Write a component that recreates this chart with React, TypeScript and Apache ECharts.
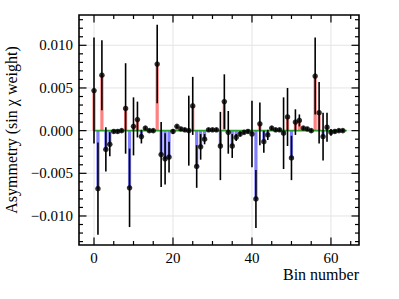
import React, { useEffect, useRef } from 'react';
import * as echarts from 'echarts';

const asym = [
  0.0047, -0.0068, 0.0065, -0.0022, -0.0016, -0.0001, -0.0001, 0.0, 0.0026, -0.0067,
  0.0005, 0.0013, -0.0007, 0.0003, 0.0, 0.0, 0.0078, -0.0028, -0.0033, -0.0031,
  -0.0001, 0.0005, 0.0002, 0.0001, 0.0, 0.0029, -0.0042, -0.0019, -0.001, 0.0001,
  0.0001, 0.0001, -0.0018, 0.0034, -0.0002, -0.0018, -0.0008, -0.0004, -0.0002, -0.0001,
  -0.0004, -0.008, 0.0008, -0.0013, -0.0005, 0.0003, 0.0001, 0.0001, -0.0003, 0.0016,
  -0.0032, 0.001, 0.0012, 0.0003, 0.0002, 0.0, 0.0064, 0.0021, -0.0007, 0.0004,
  -0.0002, -0.0001, 0.0, 0.0,
];
const asymErr = [
  0.0062, 0.0054, 0.0041, 0.0026, 0.0014, 0.0002, 0.0002, 0.0002, 0.0053, 0.0046,
  0.0034, 0.0021, 0.0008, 0.0002, 0.0002, 0.0002, 0.0046, 0.0038, 0.003, 0.0018,
  0.0003, 0.0002, 0.0002, 0.0002, 0.0041, 0.0034, 0.0025, 0.0015, 0.0006, 0.0002,
  0.0002, 0.0002, 0.004, 0.0032, 0.0025, 0.0014, 0.0004, 0.0003, 0.0002, 0.0002,
  0.0039, 0.0034, 0.0025, 0.0013, 0.0006, 0.0002, 0.0002, 0.0002, 0.0042, 0.0034,
  0.0026, 0.0015, 0.0007, 0.0002, 0.0002, 0.0002, 0.0045, 0.0036, 0.0028, 0.0017,
  0.0004, 0.0002, 0.0002, 0.0002,
];
const xMajorTicks = [0, 20, 40, 60];
const xMinorTicks = [5, 10, 15, 25, 30, 35, 45, 50, 55, 65];
const yMajorTicks = [-0.01, -0.005, 0, 0.005, 0.01];
const yMinorTicks = [
  -0.013, -0.012, -0.011, -0.009, -0.008, -0.007, -0.006, -0.004, -0.003, -0.002, -0.001,
  0.001, 0.002, 0.003, 0.004, 0.006, 0.007, 0.008, 0.009, 0.011, 0.012, 0.013,
];
const fitX = [0, 64];
const fitY = [0, 0];

const FONT = "'Liberation Serif', 'DejaVu Serif', serif";
const RICH = { t: { fontFamily: FONT, fontSize: 15, color: '#000' } };

export default function App() {
  const ref = useRef<HTMLDivElement>(null);
  useEffect(() => {
    const chart = echarts.init(ref.current!, null, { renderer: 'svg' });
    const bins = asym.map((_, i) => i);

    const option: any = {
      animation: false,
      backgroundColor: '#fff',
      textStyle: { fontFamily: FONT, fontSize: 15, color: '#000' },
      grid: {
        left: 79, right: 40, top: 15, bottom: 54,
        containLabel: false, outerBoundsMode: 'none',
      },
      xAxis: {
        type: 'value',
        min: -3.8,
        max: 67.1,
        axisLine: { show: false, onZero: false },
        axisTick: { show: false },
        splitLine: { show: false },
        axisLabel: {
          customValues: xMajorTicks,
          formatter: (v: number) => '{t|' + String(v) + '}',
          rich: RICH,
          fontFamily: FONT,
          fontSize: 15,
          color: '#000',
          margin: 5,
        },
        name: 'Bin number',
        nameLocation: 'end',
        nameGap: 0,
        nameTextStyle: {
          fontFamily: FONT,
          fontSize: 16,
          color: '#000',
          align: 'right',
          verticalAlign: 'top',
          padding: [21, 0, 0, 0],
        },
      },
      yAxis: {
        type: 'value',
        min: -0.0134,
        max: 0.01355,
        axisLine: { show: false, onZero: false },
        axisTick: { show: false },
        splitLine: { show: false },
        axisLabel: {
          customValues: yMajorTicks,
          formatter: (v: number) => {
            const s = Math.abs(v).toFixed(3);
            return '{t|' + (v < -1e-9 ? '\u2212' + s : s) + '}';
          },
          rich: RICH,
          fontFamily: FONT,
          fontSize: 15,
          color: '#000',
          margin: 6,
        },
        name: 'Asymmetry (sin \u03c7 weight)',
        nameLocation: 'middle',
        nameGap: 59,
        nameTextStyle: { fontFamily: FONT, fontSize: 16, color: '#000' },
      },
      series: [
        {
          type: 'custom',
          z: 0,
          silent: true,
          data: [[0, 0]],
          renderItem: (params: any, api: any) => {
            const cs = params.coordSys;
            const children: any[] = [];
            xMajorTicks.forEach((v) => {
              const px = api.coord([v, 0])[0];
              children.push({
                type: 'line',
                shape: { x1: px, y1: cs.y, x2: px, y2: cs.y + cs.height },
                style: { stroke: '#e4e4e4', lineWidth: 1 },
              });
            });
            yMajorTicks.forEach((v) => {
              const py = api.coord([0, v])[1];
              children.push({
                type: 'line',
                shape: { x1: cs.x, y1: py, x2: cs.x + cs.width, y2: py },
                style: { stroke: '#e4e4e4', lineWidth: 1 },
              });
            });
            return { type: 'group', children };
          },
        },
        {
          type: 'bar',
          z: 1,
          barWidth: 3.2,
          data: bins.map((i) => ({
            value: [i, asym[i]],
            itemStyle: { color: asym[i] >= 0 ? '#ff8080' : '#8080ff' },
          })),
        },
        {
          type: 'line',
          z: 3,
          showSymbol: false,
          data: fitX.map((x, i) => [x, fitY[i]]),
          lineStyle: { color: '#2ca02c', width: 1.8 },
        },
        {
          type: 'custom',
          z: 4,
          encode: { x: 0, y: 1 },
          data: bins.map((i) => [i, asym[i], asymErr[i]]),
          renderItem: (params: any, api: any) => {
            const x = api.value(0);
            const y = api.value(1);
            const e = api.value(2);
            const p1 = api.coord([x, y - e]);
            const p2 = api.coord([x, y + e]);
            return {
              type: 'line',
              shape: { x1: p1[0], y1: p1[1], x2: p2[0], y2: p2[1] },
              style: { stroke: '#000', lineWidth: 1.6 },
            };
          },
        },
        {
          type: 'scatter',
          z: 5,
          symbolSize: 5.5,
          itemStyle: { color: '#000' },
          data: bins.map((i) => [i, asym[i]]),
        },
        {
          type: 'custom',
          z: 6,
          silent: true,
          data: [[0, 0]],
          renderItem: (params: any, api: any) => {
            const cs = params.coordSys;
            const children: any[] = [];
            const bottom = cs.y + cs.height;
            const right = cs.x + cs.width;
            const addX = (v: number, len: number) => {
              const px = api.coord([v, 0])[0];
              children.push({ type: 'line', shape: { x1: px, y1: bottom, x2: px, y2: bottom - len }, style: { stroke: '#000', lineWidth: 1.2 } });
              children.push({ type: 'line', shape: { x1: px, y1: cs.y, x2: px, y2: cs.y + len }, style: { stroke: '#000', lineWidth: 1.2 } });
            };
            const addY = (v: number, len: number) => {
              const py = api.coord([0, v])[1];
              children.push({ type: 'line', shape: { x1: cs.x, y1: py, x2: cs.x + len, y2: py }, style: { stroke: '#000', lineWidth: 1.2 } });
              children.push({ type: 'line', shape: { x1: right, y1: py, x2: right - len, y2: py }, style: { stroke: '#000', lineWidth: 1.2 } });
            };
            xMajorTicks.forEach((v) => addX(v, 7.5));
            xMinorTicks.forEach((v) => addX(v, 4));
            yMajorTicks.forEach((v) => addY(v, 7.5));
            yMinorTicks.forEach((v) => addY(v, 4));
            children.push({
              type: 'rect',
              shape: { x: cs.x, y: cs.y, width: cs.width, height: cs.height },
              style: { fill: 'none', stroke: '#000', lineWidth: 1.6 },
            });
            return { type: 'group', children };
          },
        },
      ],
    };
    chart.setOption(option);
    return () => chart.dispose();
  }, []);
  return (
    <div
      ref={ref}
      style={{ position: 'fixed', left: 0, top: 0, width: 399, height: 299 }}
    />
  );
}
